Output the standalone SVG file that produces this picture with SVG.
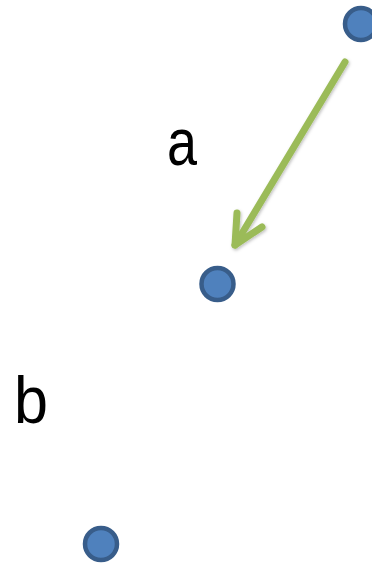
<svg xmlns="http://www.w3.org/2000/svg" width="372" height="563" viewBox="0 0 372 563">
<defs>
<style>
.node{fill:#4F81BD;stroke:#385D8A;stroke-width:4.5}
.lbl{font-family:"Liberation Sans",Arial,sans-serif;font-size:66px;fill:#000}
.conn{fill:none;stroke:#9BBB59;stroke-width:7;stroke-linecap:round;stroke-linejoin:round}
</style>
<filter id="sh" x="-20%" y="-20%" width="140%" height="140%">
<feDropShadow dx="1" dy="1.5" stdDeviation="1.5" flood-color="#000" flood-opacity="0.25"/>
</filter>
</defs>
<rect width="372" height="563" fill="#fff"/>
<g id="label-a"><text class="lbl" x="167" y="165" textLength="30" lengthAdjust="spacingAndGlyphs">a</text></g>
<g id="label-b"><text class="lbl" x="14" y="423" textLength="34" lengthAdjust="spacingAndGlyphs">b</text></g>
<g id="connectors" filter="url(#sh)">
<path class="conn" d="M345,62 L235,245"/>
<path class="conn" d="M237,213 L235,245 L262,227"/>
</g>
<g id="node1"><circle class="node" cx="361" cy="24" r="16"/></g>
<g id="node2"><circle class="node" cx="217.5" cy="284" r="16"/></g>
<g id="node3"><circle class="node" cx="101" cy="544" r="16"/></g>
</svg>
